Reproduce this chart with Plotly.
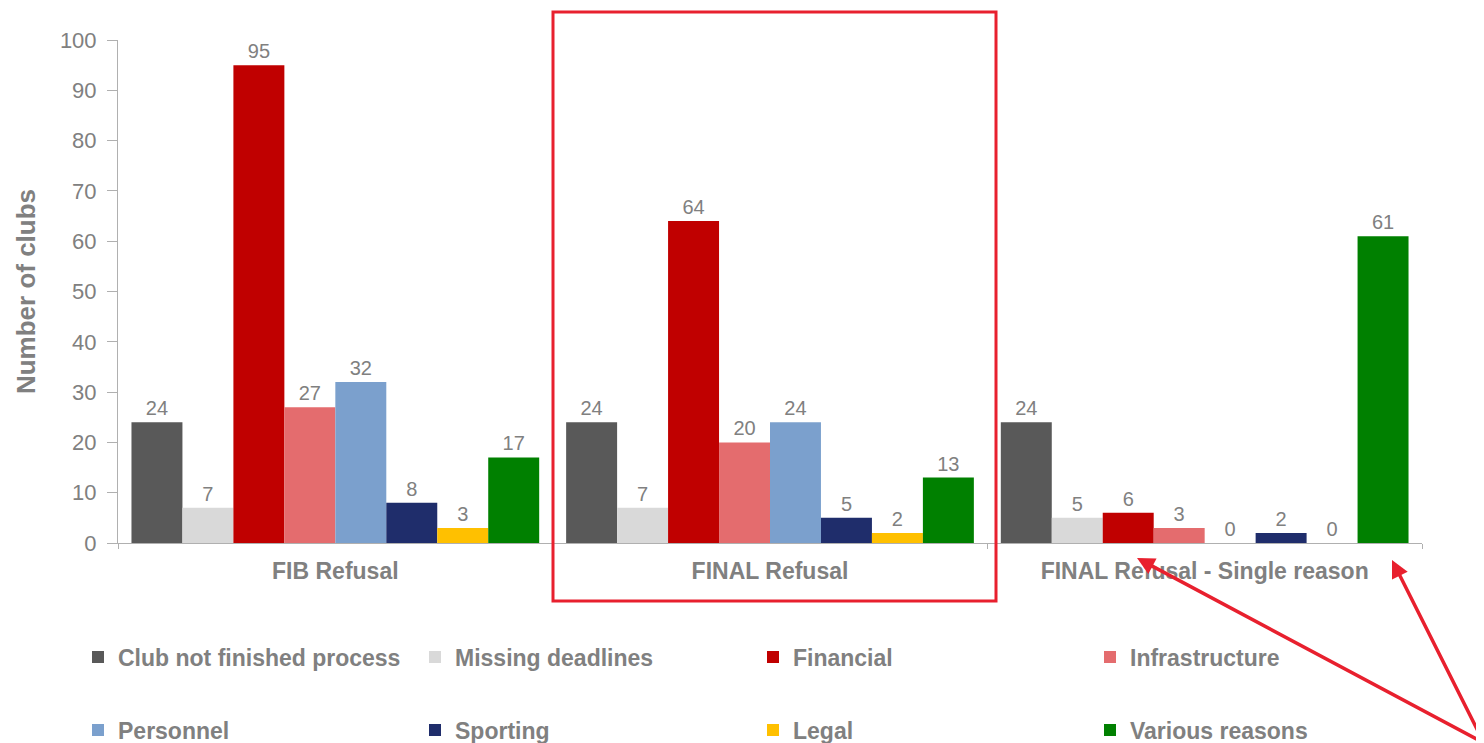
import plotly.graph_objects as go

groups = ["FIB Refusal", "FINAL Refusal", "FINAL Refusal - Single reason"]
series_names = ["Club not finished process", "Missing deadlines", "Financial", "Infrastructure",
                "Personnel", "Sporting", "Legal", "Various reasons"]
club_not_finished = [24, 24, 24]
missing_deadlines = [7, 7, 5]
financial = [95, 64, 6]
infrastructure = [27, 20, 3]
personnel = [32, 24, 0]
sporting = [8, 5, 2]
legal = [3, 2, 0]
various = [17, 13, 61]
series_values = [club_not_finished, missing_deadlines, financial, infrastructure,
                 personnel, sporting, legal, various]
colors = ["#595959", "#d9d9d9", "#c00000", "#e46c6e", "#7ba0cd", "#1f2d6b", "#ffc000", "#008000"]
y_ticks = [0, 10, 20, 30, 40, 50, 60, 70, 80, 90, 100]

GRAY = "#808080"
FONT = "Liberation Sans, Arial"
W, H = 1476, 735  # page body has an 8px margin

# legend grid (screen pixels): text start of each column, centre of each row
legend_cols = [118, 455, 793, 1130]
legend_rows = [657, 730]

fig = go.Figure()
legend_layout = {}
for i, (name, vals, col) in enumerate(zip(series_names, series_values, colors)):
    lg = "legend" if i == 0 else f"legend{i + 1}"
    fig.add_trace(go.Bar(
        name=name, x=groups, y=vals, marker=dict(color=col, line=dict(width=0)),
        text=vals, textposition="outside", cliponaxis=False,
        textfont=dict(family=FONT, size=20, color=GRAY),
        legend=lg, showlegend=True,
    ))
    cx = legend_cols[i % 4] - 40
    cy = legend_rows[i // 4]
    legend_layout[lg] = dict(
        orientation="h", xanchor="left", yanchor="middle",
        xref="container", yref="container",
        x=(cx - 8) / W, y=1 - (cy - 8) / H,
        font=dict(family=FONT, size=23, color=GRAY, weight="bold"),
        bgcolor="rgba(0,0,0,0)",
    )

fig.update_layout(
    width=W, height=H, showlegend=True,
    margin=dict(l=110, r=62, t=32, b=200),
    paper_bgcolor="white", plot_bgcolor="white",
    barmode="group", bargap=0.062, bargroupgap=0,
    font=dict(family=FONT, color=GRAY),
    xaxis=dict(
        showline=True, linecolor="#b0b0b0", linewidth=1,
        ticks="outside", tickson="boundaries", ticklen=5, tickcolor="#b0b0b0",
        tickfont=dict(family=FONT, size=23, color=GRAY, weight="bold"),
        ticklabelstandoff=7,
        showgrid=False,
    ),
    yaxis=dict(
        range=[0, 100], tickvals=y_ticks, showline=True, linecolor="#b0b0b0", linewidth=1,
        ticks="outside", ticklen=10, tickcolor="#b0b0b0",
        tickfont=dict(family=FONT, size=22, color=GRAY),
        ticklabelstandoff=6,
        showgrid=False, zeroline=False,
        title=dict(text="Number of clubs", standoff=16,
                   font=dict(family=FONT, size=26, color=GRAY, weight="bold")),
    ),
    **legend_layout,
)

# red highlight box around the middle group
fig.add_shape(type="rect", xref="paper", yref="paper",
              x0=(553 - 118) / 1304, x1=(996 - 118) / 1304,
              y0=(543 - 601) / 503, y1=(543 - 12) / 503,
              line=dict(color="#e8202e", width=3), fillcolor="rgba(0,0,0,0)")

# red arrows
fig.add_annotation(xref="paper", yref="paper", x=(1137 - 118) / 1304, y=(543 - 558) / 503,
                   text="", showarrow=True, arrowhead=2, arrowsize=1, arrowwidth=3.5,
                   arrowcolor="#e8202e", ax=420, ay=192, axref="pixel", ayref="pixel")
fig.add_annotation(xref="paper", yref="paper", x=(1392 - 118) / 1304, y=(543 - 560) / 503,
                   text="", showarrow=True, arrowhead=2, arrowsize=1, arrowwidth=3.5,
                   arrowcolor="#e8202e", ax=130, ay=198, axref="pixel", ayref="pixel")
fig.add_shape(type="circle", xref="paper", yref="paper",
              x0=(1477 - 118) / 1304, x1=(1483 - 118) / 1304,
              y0=(543 - 558) / 503, y1=(543 - 552) / 503,
              line=dict(width=0), fillcolor="#e8202e")

fig.write_html("out.html")
